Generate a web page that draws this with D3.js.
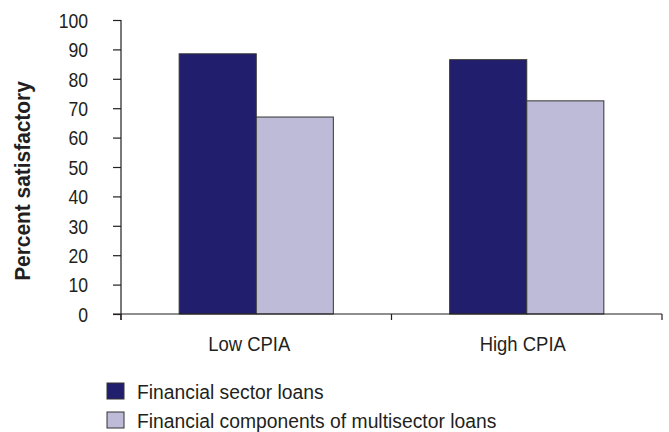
<!DOCTYPE html>
<html>
<head>
<meta charset="utf-8">
<script src="https://cdn.jsdelivr.net/npm/d3@7"></script>
<style>
  body { margin: 0; background: #fff; }
  svg { display: block; }
  text { font-family: "Liberation Sans", Arial, sans-serif; fill: #231f20; }
</style>
</head>
<body>
<svg id="chart" width="669" height="432"></svg>
<script>
const categories = ["Low CPIA", "High CPIA"];
const seriesNames = ["Financial sector loans", "Financial components of multisector loans"];
const financialSector = [88.5, 86.5];
const multisectorComponents = [67, 72.5];
const yTicks = [0, 10, 20, 30, 40, 50, 60, 70, 80, 90, 100];
const colors = ["#221e6e", "#bdbbd8"];

const svg = d3.select("#chart");
const mLeft = 121, mRight = 662, mTop = 20, mBottom = 314;

const x0 = d3.scaleBand().domain(categories).range([mLeft, mRight]).padding(0);
const bw = x0.bandwidth();
const x1 = d3.scaleBand().domain(seriesNames).range([bw * 0.215, bw * 0.785]).padding(0);
const y = d3.scaleLinear().domain([0, 100]).range([mBottom, mTop]);

const seriesValues = [financialSector, multisectorComponents];

// bars
const groups = svg.append("g").selectAll("g")
  .data(categories)
  .join("g")
  .attr("transform", d => `translate(${x0(d)},0)`);

groups.selectAll("rect")
  .data((c, i) => seriesNames.map((s, j) => ({ s, v: seriesValues[j][i], j })))
  .join("rect")
  .attr("x", d => x1(d.s))
  .attr("y", d => y(d.v))
  .attr("width", x1.bandwidth())
  .attr("height", d => y(0) - y(d.v))
  .attr("fill", d => colors[d.j])
  .attr("stroke", "#333")
  .attr("stroke-width", 1);

// y axis
const yAxis = svg.append("g")
  .attr("transform", `translate(${mLeft},0)`)
  .call(d3.axisLeft(y).tickValues(yTicks).tickSize(8));
yAxis.select(".domain").attr("d", `M0,${mTop}V${mBottom + 6}`);
yAxis.selectAll("line, path").attr("stroke", "#231f20").attr("stroke-width", 1.2);
yAxis.selectAll("text")
  .attr("font-size", 20)
  .attr("font-family", "Liberation Sans, Arial, sans-serif")
  .attr("fill", "#231f20")
  .attr("text-anchor", "end")
  .attr("dy", "0.36em")
  .attr("x", 0)
  .attr("transform", "translate(-33,0) scale(0.88,1)");

// x axis
const xAxisG = svg.append("g").attr("transform", `translate(0,${mBottom})`);
xAxisG.append("line")
  .attr("x1", mLeft - 8).attr("x2", mRight)
  .attr("stroke", "#231f20").attr("stroke-width", 1.2);
const boundaries = [x0(categories[0]), x0(categories[1]), x0(categories[1]) + bw];
xAxisG.selectAll("line.tick")
  .data(boundaries)
  .join("line")
  .attr("class", "tick")
  .attr("x1", d => d).attr("x2", d => d)
  .attr("y1", 0).attr("y2", 6)
  .attr("stroke", "#231f20").attr("stroke-width", 1.2);
xAxisG.selectAll("text.cat")
  .data(categories)
  .join("text")
  .attr("class", "cat")
  .attr("transform", (d, i) => `translate(${x0(d) + bw / 2 - (i === 0 ? 7 : 4)},37) scale(0.88,1)`)
  .attr("text-anchor", "middle")
  .attr("font-size", 21)
  .text(d => d);

// y axis title
svg.append("text")
  .attr("transform", `translate(30,181) rotate(-90) scale(0.95,1)`)
  .attr("text-anchor", "middle")
  .attr("font-size", 22)
  .attr("font-weight", "bold")
  .text("Percent satisfactory");

// legend
const legend = svg.append("g").attr("transform", "translate(107,383)");
const items = legend.selectAll("g")
  .data(seriesNames)
  .join("g")
  .attr("transform", (d, i) => `translate(0,${i * 29})`);
items.append("rect")
  .attr("width", 17).attr("height", 16)
  .attr("fill", (d, i) => colors[i])
  .attr("stroke", "#333").attr("stroke-width", 1);
items.append("text")
  .attr("transform", "translate(30,15.5) scale(0.92,1)")
  .attr("font-size", 21)
  .text(d => d);
</script>
</body>
</html>
